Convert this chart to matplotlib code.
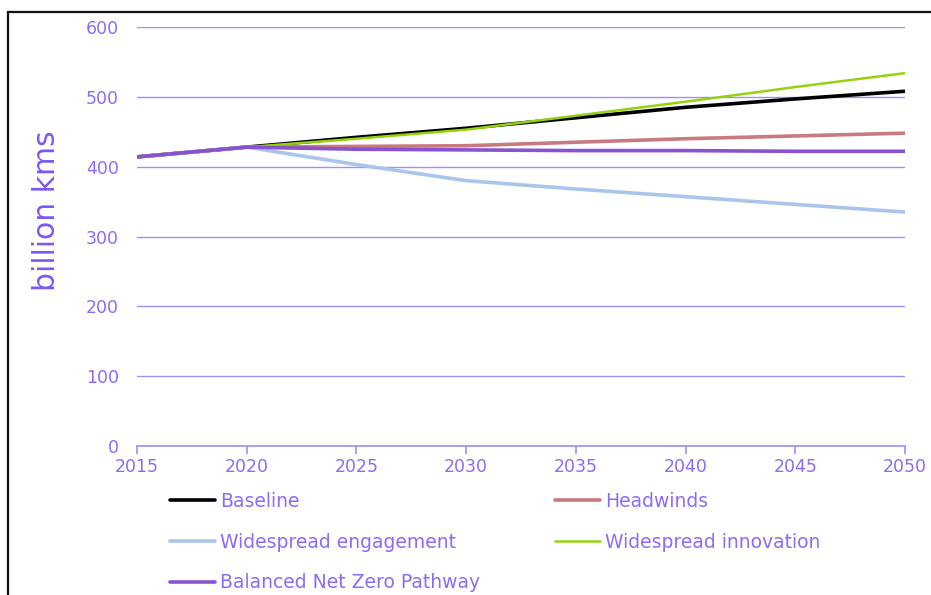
import matplotlib
matplotlib.use("Agg")
import matplotlib.pyplot as plt
from matplotlib.patches import Rectangle

years = [2015, 2020, 2025, 2030, 2035, 2040, 2045, 2050]
baseline = [414, 428, 442, 455, 470, 485, 497, 508]
headwinds = [414, 428, 429, 430, 435, 440, 444, 448]
engagement = [414, 428, 403, 380, 368, 357, 346, 335]
innovation = [414, 428, 440, 453, 473, 493, 514, 534]
balanced = [414, 428, 425, 424, 423, 423, 422, 422]

series = [
    ("Baseline", baseline, "#000000", 2.6),
    ("Headwinds", headwinds, "#C97A80", 2.6),
    ("Widespread engagement", engagement, "#A9C5EC", 2.6),
    ("Widespread innovation", innovation, "#96D20E", 1.8),
    ("Balanced Net Zero Pathway", balanced, "#8A52CF", 2.6),
]

txt = "#8C6BFA"
grid = "#A58CF6"
plt.rcParams["font.family"] = ["DejaVu Sans"]

fig = plt.figure(figsize=(9.31, 5.95), dpi=100)
ax = fig.add_axes([137 / 931, 1 - 446 / 595, (905 - 137) / 931, (446 - 27) / 595])

handles = []
for name, vals, col, lw in series:
    h, = ax.plot(years, vals, color=col, lw=lw, label=name,
                 solid_joinstyle="round", solid_capstyle="round", zorder=3)
    handles.append(h)

ax.set_xlim(2015, 2050)
ax.set_ylim(0, 600)
ax.set_xticks(range(2015, 2051, 5))
ax.set_yticks(range(0, 601, 100))
ax.yaxis.grid(True, color=grid, lw=1.0)
ax.set_axisbelow(True)
for s in ("top", "right", "left"):
    ax.spines[s].set_visible(False)
ax.spines["bottom"].set_color(grid)
ax.spines["bottom"].set_linewidth(1.2)
ax.tick_params(axis="x", colors=grid, labelcolor=txt, labelsize=12.5,
               length=6, width=1.2, direction="out", pad=3)
ax.tick_params(axis="y", length=0, labelcolor=txt, labelsize=12.5, pad=13)
ax.set_ylabel("billion kms", color="#7E56F2", fontsize=21.5)
ax.yaxis.set_label_coords(-0.099, 0.561)

# legend: filled row by row (Baseline | Headwinds, ...)
order = [0, 2, 4, 1, 3]
leg = fig.legend(handles=[handles[i] for i in order],
                 labels=[series[i][0] for i in order],
                 ncol=2, loc="upper left",
                 bbox_to_anchor=(170 / 931, 1 - 492 / 595),
                 frameon=False, fontsize=13.5, handlelength=2.4,
                 handletextpad=0.27, columnspacing=4.0, labelspacing=1.16,
                 borderpad=0, borderaxespad=0)
for t in leg.get_texts():
    t.set_color(txt)

# outer frame
fig.patches.append(Rectangle((8 / 931, -0.05), 1.2, 1 - 12 / 595 + 0.05,
                             transform=fig.transFigure, fill=False,
                             edgecolor="#111111", lw=1.6))

fig.savefig("out.png", dpi=100)
